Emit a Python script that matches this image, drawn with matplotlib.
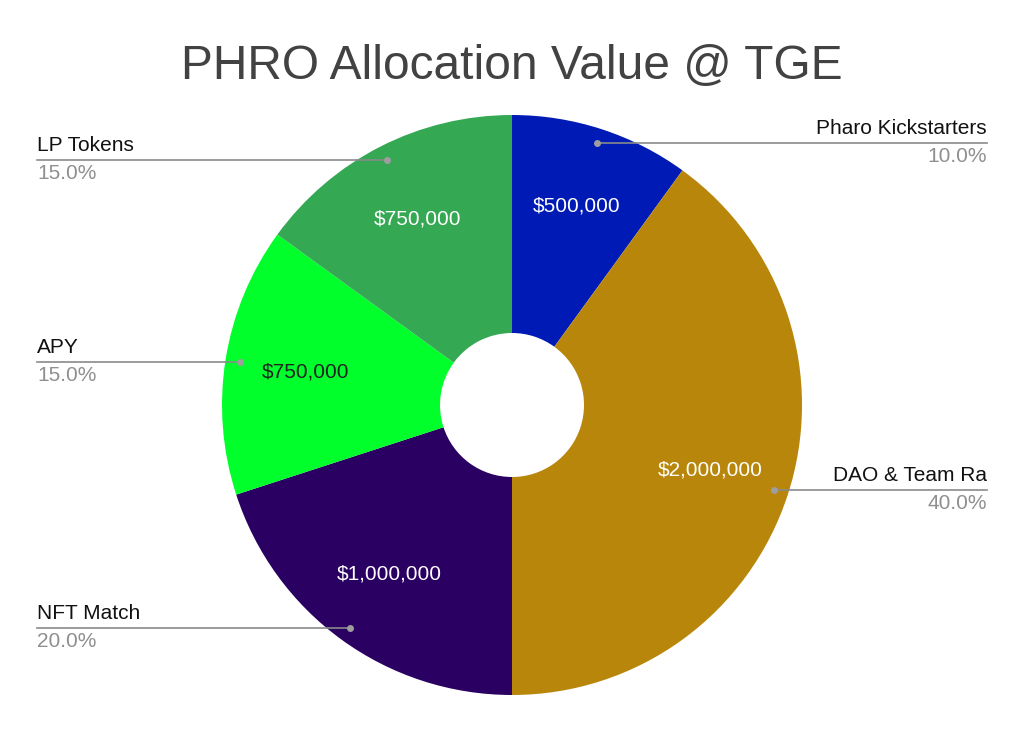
import matplotlib
matplotlib.use("Agg")
import matplotlib.pyplot as plt
import numpy as np

labels = ["Pharo Kickstarters", "DAO & Team Ra", "NFT Match", "APY", "LP Tokens"]
values = [500000, 2000000, 1000000, 750000, 750000]
colors = ["#001bb5", "#b8860b", "#2a0062", "#00ff2b", "#35a853"]
value_text_colors = ["white", "white", "white", "#222222", "white"]
title = "PHRO Allocation Value @ TGE"

W, H = 1024, 732
fig = plt.figure(figsize=(W / 100, H / 100), dpi=100)
ax = fig.add_axes([0, 0, 1, 1])

cx, cy = 512, H - 405
R = 290
hole = 72

wedges, _ = ax.pie(values, colors=colors, startangle=90, counterclock=False,
                   center=(cx, cy), radius=R, frame=True,
                   wedgeprops=dict(width=R - hole, linewidth=0))
ax.set_xlim(0, W)
ax.set_ylim(0, H)
ax.set_aspect("equal")
ax.axis("off")

font = "Liberation Sans"
total = sum(values)
for w, lab, v, tc in zip(wedges, labels, values, value_text_colors):
    mid = np.deg2rad((w.theta1 + w.theta2) / 2)
    # value label
    rl = 0.72 * R
    ax.text(cx + rl * np.cos(mid), cy + rl * np.sin(mid), f"${v:,.0f}",
            ha="center", va="center", color=tc, fontsize=15, family=font)
    # leader
    rd = 0.95 * R
    dx, dy = cx + rd * np.cos(mid), cy + rd * np.sin(mid)
    ax.plot([dx], [dy], "o", color="#9e9e9e", ms=4, zorder=5)
    if np.cos(mid) >= 0:
        x_end, ha = 987, "right"
    else:
        x_end, ha = 37, "left"
    ax.plot([dx, x_end], [dy, dy], color="#8a8a8a", lw=1.2, zorder=4)
    ax.text(x_end, dy + 5, lab, ha=ha, va="bottom", fontsize=15,
            color="#111111", family=font)
    ax.text(x_end, dy - 4, f"{v / total * 100:.1f}%", ha=ha, va="top",
            fontsize=15, color="#8f8f8f", family=font)

ax.text(W / 2, H - 66, title, ha="center", va="center", fontsize=34.5,
        color="#424242", family=font)

fig.savefig("out.png", dpi=100)
